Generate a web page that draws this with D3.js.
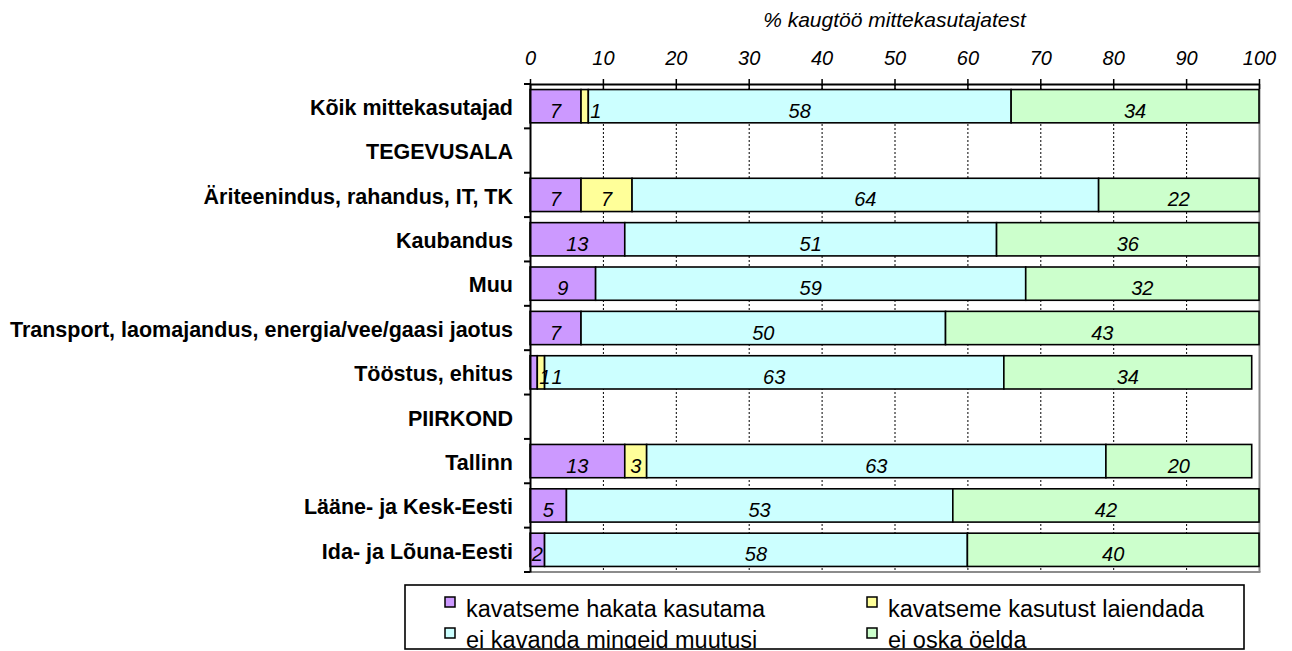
<!DOCTYPE html>
<html>
<head>
<meta charset="utf-8">
<script src="https://cdn.jsdelivr.net/npm/d3@7"></script>
<style>
  html, body { margin: 0; padding: 0; background: #fff; }
  svg { display: block; font-family: "Liberation Sans", Arial, Helvetica, sans-serif; }
</style>
</head>
<body>
<svg id="chart" width="1292" height="651"></svg>
<script>
// Categories, top to bottom; the two header rows carry no bars
const categories = [
  "Kõik mittekasutajad",
  "TEGEVUSALA",
  "Äriteenindus, rahandus, IT, TK",
  "Kaubandus",
  "Muu",
  "Transport, laomajandus, energia/vee/gaasi jaotus",
  "Tööstus, ehitus",
  "PIIRKOND",
  "Tallinn",
  "Lääne- ja Kesk-Eesti",
  "Ida- ja Lõuna-Eesti"
];

// Series names (legend order) and values in % per category
const seriesNames = [
  "kavatseme hakata kasutama",
  "kavatseme kasutust laiendada",
  "ei kavanda mingeid muutusi",
  "ei oska öelda"
];
const startUsing  = [7, null, 7, 13, 9, 7, 1, null, 13, 5, 2];
const expandUse   = [1, null, 7, 0, 0, 0, 1, null, 3, 0, 0];
const noChange    = [58, null, 64, 51, 59, 50, 63, null, 63, 53, 58];
const cannotSay   = [34, null, 22, 36, 32, 43, 34, null, 20, 42, 40];

const tickValues = [0, 10, 20, 30, 40, 50, 60, 70, 80, 90, 100];
const axisTitle = "% kaugtöö mittekasutajatest";

const colors = ["#CC99FF", "#FFFF99", "#CCFFFF", "#CCFFCC"];

// Build rows for the stack layout
const seriesArrays = [startUsing, expandUse, noChange, cannotSay];
const rows = categories.map((c, i) => {
  const r = { category: c };
  seriesNames.forEach((s, k) => { r[s] = seriesArrays[k][i] == null ? 0 : seriesArrays[k][i]; });
  return r;
});
const stacked = d3.stack().keys(seriesNames)(rows);

const svg = d3.select("#chart");
const plot = { left: 530, right: 1259, top: 84, bottom: 572 };

const x = d3.scaleLinear().domain([0, 100]).range([plot.left, plot.right]);
const y = d3.scaleBand().domain(categories).range([plot.top, plot.bottom])
  .paddingInner(0.25).paddingOuter(0.125);

// Title above the value axis
svg.append("text")
  .attr("x", (plot.left + plot.right) / 2)
  .attr("y", 27)
  .attr("text-anchor", "middle")
  .style("font-size", "21px")
  .style("font-style", "italic")
  .text(axisTitle);

// Dashed vertical gridlines
svg.append("g").selectAll("line")
  .data(tickValues.filter(t => t > 0 && t < 100))
  .join("line")
  .attr("x1", d => x(d) + 0.5).attr("x2", d => x(d) + 0.5)
  .attr("y1", plot.top).attr("y2", plot.bottom)
  .attr("stroke", "#000")
  .attr("stroke-width", 1)
  .attr("stroke-dasharray", "2,2");

// Plot area frame (right and bottom)
svg.append("line")
  .attr("x1", plot.right + 0.5).attr("x2", plot.right + 0.5)
  .attr("y1", plot.top).attr("y2", plot.bottom)
  .attr("stroke", "#8c8c8c").attr("stroke-width", 2);
svg.append("line")
  .attr("x1", plot.left).attr("x2", plot.right + 1.5)
  .attr("y1", plot.bottom).attr("y2", plot.bottom)
  .attr("stroke", "#8c8c8c").attr("stroke-width", 2);

// Stacked bars
const layers = svg.append("g").selectAll("g")
  .data(stacked)
  .join("g")
  .attr("fill", (d, i) => colors[i]);

layers.selectAll("rect")
  .data(d => d.filter(s => s[1] - s[0] > 0))
  .join("rect")
  .attr("x", d => x(d[0]))
  .attr("y", d => y(d.data.category))
  .attr("width", d => x(d[1]) - x(d[0]))
  .attr("height", y.bandwidth())
  .attr("stroke", "#000")
  .attr("stroke-width", 1.6);

// Value labels: centred in the segment, or just past its end when the segment is very narrow
const labelGroup = svg.append("g")
  .style("font-size", "20px")
  .style("font-style", "italic");
const placedEnd = {}; // right edge of the last narrow label in each row
stacked.forEach((layer) => {
  labelGroup.selectAll(null)
    .data(layer.filter(s => s[1] - s[0] > 0))
    .join("text")
    .attr("y", d => y(d.data.category) + y.bandwidth() / 2 + 11.5)
    .text(d => d[1] - d[0])
    .each(function (d) {
      const w = x(d[1]) - x(d[0]);
      const t = d3.select(this);
      const cat = d.data.category;
      if (w < 10) {
        let lx = x(d[1]) + 2;
        if (placedEnd[cat] !== undefined && lx < placedEnd[cat] + 1) lx = placedEnd[cat] + 1;
        t.attr("x", lx).attr("text-anchor", "start");
        placedEnd[cat] = lx + this.getComputedTextLength();
      } else {
        t.attr("x", (x(d[0]) + x(d[1])) / 2).attr("text-anchor", "middle");
      }
    });
});

// Top value axis with crossing ticks
const xAxis = svg.append("g")
  .attr("transform", `translate(0,${plot.top})`)
  .call(d3.axisTop(x).tickValues(tickValues).tickSize(5).tickSizeOuter(0));
xAxis.select(".domain").attr("stroke", "#000").attr("stroke-width", 2);
xAxis.selectAll(".tick line").attr("y1", 5).attr("y2", -5)
  .attr("stroke", "#000").attr("stroke-width", 1.5);
xAxis.selectAll(".tick text")
  .attr("y", -19).attr("dy", 0)
  .style("font-size", "20px")
  .style("font-style", "italic")
  .style("font-family", "\"Liberation Sans\", Arial, sans-serif")
  .attr("fill", "#000");

// Category axis on the left
const yAxis = svg.append("g")
  .attr("transform", `translate(${plot.left},0)`)
  .call(d3.axisLeft(y).tickSize(0).tickSizeOuter(0).tickPadding(17));
yAxis.select(".domain").attr("stroke", "#000").attr("stroke-width", 2);
yAxis.selectAll(".tick text")
  .attr("dy", "0.41em")
  .style("font-size", "21.5px")
  .style("font-weight", "bold")
  .style("font-family", "\"Liberation Sans\", Arial, sans-serif")
  .attr("fill", "#000");

// Tick marks at band boundaries
const boundaries = categories.map(c => y(c) - y.step() * y.paddingInner() / 2)
  .concat([plot.bottom]);
svg.append("g").selectAll("line")
  .data(boundaries)
  .join("line")
  .attr("x1", plot.left - 6).attr("x2", plot.left)
  .attr("y1", d => d).attr("y2", d => d)
  .attr("stroke", "#000").attr("stroke-width", 2);

// Legend
const legend = { x: 405, y: 585, w: 839, h: 64 };
svg.append("clipPath").attr("id", "legend-clip")
  .append("rect")
  .attr("x", legend.x).attr("y", legend.y)
  .attr("width", legend.w).attr("height", legend.h);
const lg = svg.append("g");
lg.append("rect")
  .attr("x", legend.x).attr("y", legend.y)
  .attr("width", legend.w).attr("height", legend.h)
  .attr("fill", "#fff");
const items = lg.append("g").attr("clip-path", "url(#legend-clip)")
  .selectAll("g")
  .data(seriesNames)
  .join("g")
  .attr("transform", (d, i) => `translate(${i % 2 === 0 ? 445 : 867},${i < 2 ? 597 : 628})`);
items.append("rect")
  .attr("width", 10).attr("height", 10)
  .attr("fill", (d, i) => colors[i])
  .attr("stroke", "#000").attr("stroke-width", 1.5);
items.append("text")
  .attr("x", 21).attr("y", 20)
  .style("font-size", "23.5px")
  .text(d => d);
lg.append("rect")
  .attr("x", legend.x).attr("y", legend.y)
  .attr("width", legend.w).attr("height", legend.h)
  .attr("fill", "none")
  .attr("stroke", "#000").attr("stroke-width", 1.6);
</script>
</body>
</html>
